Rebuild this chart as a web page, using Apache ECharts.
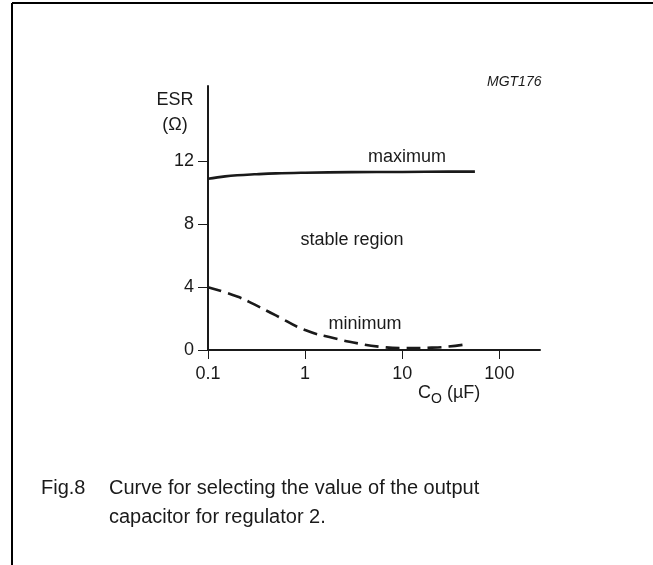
<!DOCTYPE html>
<html>
<head>
<meta charset="utf-8">
<script src="https://cdn.jsdelivr.net/npm/echarts@6/dist/echarts.min.js"></script>
<style>
html,body{margin:0;padding:0;background:#fff;}
#chart{width:653px;height:565px;}
</style>
</head>
<body>
<div id="chart"></div>
<script>
// Data (x: C_O in µF, log scale; y: ESR in Ω)
const maxCurve = [
  [0.1, 10.9], [0.15, 11.05], [0.2, 11.12], [0.3, 11.18], [0.5, 11.24],
  [1, 11.28], [3, 11.32], [10, 11.33], [30, 11.35], [56, 11.35]
];
const minCurve = [
  [0.1, 4.0], [0.2, 3.4], [0.3, 2.9], [0.5, 2.2], [1, 1.27],
  [2, 0.75], [3.5, 0.42], [6, 0.2], [10, 0.12],
  [20, 0.15], [30, 0.22], [48, 0.38]
];
const yTicks = [0, 4, 8, 12];
const xTicks = [0.1, 1, 10, 100];
const xLabels = ['0.1', '1', '10', '100'];

const FONT = '"Liberation Sans", Arial, sans-serif';
const INK = '#1a1a1a';

const chart = echarts.init(document.getElementById('chart'), null, {renderer: 'canvas'});
chart.setOption({
  backgroundColor: '#fff',
  animation: false,
  grid: {left: 208, right: 113, top: 86, bottom: 215},
  xAxis: {
    type: 'log', logBase: 10, min: 0.1, max: 262,
    axisLine: {lineStyle: {color: INK, width: 2}},
    axisTick: {show: true, length: 9, inside: false, customValues: xTicks, lineStyle: {color: INK, width: 1}},
    axisLabel: {
      customValues: xTicks,
      margin: 15, color: INK, fontSize: 18, fontFamily: FONT,
      formatter: v => { const i = xTicks.findIndex(t => Math.abs(Math.log10(t) - Math.log10(v)) < 1e-6); return i >= 0 ? xLabels[i] : ''; }
    },
    splitLine: {show: false},
    minorTick: {show: false}
  },
  yAxis: {
    type: 'value', min: 0, max: 16.8,
    axisLine: {show: true, lineStyle: {color: INK, width: 2}},
    axisTick: {show: true, length: 10, customValues: yTicks, lineStyle: {color: INK, width: 1}},
    axisLabel: {customValues: yTicks, margin: 14, color: INK, fontSize: 18, fontFamily: FONT},
    splitLine: {show: false}
  },
  series: [
    {
      name: 'maximum', type: 'line', data: maxCurve, smooth: 0.4, symbol: 'none',
      lineStyle: {color: INK, width: 2.6}
    },
    {
      name: 'minimum', type: 'line', data: minCurve, smooth: 0.5, symbol: 'none',
      lineStyle: {color: INK, width: 2.6, type: [14, 7]}
    }
  ],
  graphic: [
    // figure frame (top and left edges)
    {type: 'line', shape: {x1: 12, y1: 3, x2: 653, y2: 3}, style: {stroke: '#000', lineWidth: 2}},
    {type: 'line', shape: {x1: 12, y1: 3, x2: 12, y2: 565}, style: {stroke: '#000', lineWidth: 2}},
    {type: 'text', left: 487, top: 75, style: {text: 'MGT176', font: 'italic 14px ' + FONT, fill: INK}},
    {type: 'text', x: 175, y: 100, style: {text: 'ESR', font: '18px ' + FONT, fill: INK, align: 'center', verticalAlign: 'middle'}},
    {type: 'text', x: 175, y: 125, style: {text: '(Ω)', font: '18px ' + FONT, fill: INK, align: 'center', verticalAlign: 'middle'}},
    {type: 'text', x: 407, y: 157, style: {text: 'maximum', font: '18px ' + FONT, fill: INK, align: 'center', verticalAlign: 'middle'}},
    {type: 'text', x: 352, y: 240, style: {text: 'stable region', font: '18px ' + FONT, fill: INK, align: 'center', verticalAlign: 'middle'}},
    {type: 'text', x: 365, y: 324, style: {text: 'minimum', font: '18px ' + FONT, fill: INK, align: 'center', verticalAlign: 'middle'}},
    {type: 'text', x: 418, y: 393, style: {
      text: 'C{sub|O} (µF)', font: '18px ' + FONT, fill: INK, verticalAlign: 'middle',
      rich: {sub: {fontSize: 14, fontFamily: FONT, fill: INK, padding: [12, 0, 0, 0]}}
    }},
    {type: 'text', x: 41, y: 498, style: {text: 'Fig.8', font: '20px ' + FONT, fill: INK, verticalAlign: 'bottom'}},
    {type: 'text', x: 109, y: 498, style: {text: 'Curve for selecting the value of the output', font: '20px ' + FONT, fill: INK, verticalAlign: 'bottom'}},
    {type: 'text', x: 109, y: 527, style: {text: 'capacitor for regulator 2.', font: '20px ' + FONT, fill: INK, verticalAlign: 'bottom'}}
  ]
});
</script>
</body>
</html>
